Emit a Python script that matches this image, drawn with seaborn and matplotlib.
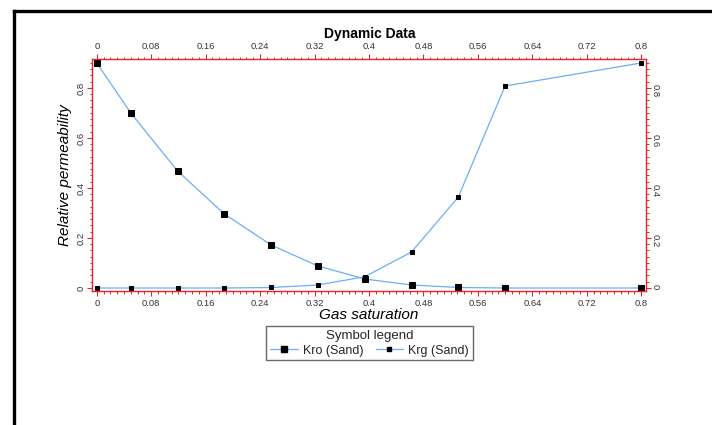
import matplotlib
matplotlib.use("Agg")
import matplotlib.pyplot as plt
import seaborn as sns
import numpy as np
import pandas as pd
from matplotlib.ticker import MultipleLocator
from matplotlib.lines import Line2D

# Data
sg = [0.0, 0.05, 0.11875, 0.1875, 0.25625, 0.325, 0.39375, 0.4625, 0.53125, 0.6, 0.8]
kro = [0.9, 0.70, 0.468, 0.296, 0.172, 0.088, 0.036, 0.012, 0.002, 0.0, 0.0]
krg = [0.0, 0.0, 0.0, 0.0, 0.002, 0.012, 0.045, 0.144, 0.364, 0.808, 0.9]
series_names = ["Kro (Sand)", "Krg (Sand)"]

sns.set_theme(style="white")
plt.rcParams['font.family'] = ['Liberation Sans', 'DejaVu Sans']

fig = plt.figure(figsize=(7.12, 4.25), dpi=100)
ax = fig.add_axes([0.1292, 0.3153, 0.7781, 0.5459])

line_color = '#6AAEFA'
red = '#E8262A'
big_ms = 5.0
small_ms = 2.6

df = pd.DataFrame({'sg': sg, 'kro': kro, 'krg': krg})
sns.lineplot(data=df, x='sg', y='kro', ax=ax, color=line_color, linewidth=0.9,
             marker='s', markersize=big_ms, markerfacecolor='black', markeredgecolor='black',
             sort=False, label=series_names[0], legend=False)
sns.lineplot(data=df, x='sg', y='krg', ax=ax, color=line_color, linewidth=0.9,
             marker='s', markersize=small_ms, markerfacecolor='black', markeredgecolor='black',
             sort=False, label=series_names[1], legend=False)

ax.set_xlim(-0.007, 0.807)
ax.set_ylim(-0.012, 0.916)

for sp in ax.spines.values():
    sp.set_visible(True)
    sp.set_color(red)
    sp.set_linewidth(1.0)

ax.xaxis.set_major_locator(MultipleLocator(0.08))
ax.xaxis.set_minor_locator(MultipleLocator(0.01))
ax.yaxis.set_major_locator(MultipleLocator(0.2))
ax.yaxis.set_minor_locator(MultipleLocator(0.025))

fmt = lambda v, p: ('%g' % round(v, 4))
ax.xaxis.set_major_formatter(plt.FuncFormatter(fmt))
ax.yaxis.set_major_formatter(plt.FuncFormatter(fmt))

tick_color = '#333333'
ax.tick_params(axis='both', which='major', direction='out', length=3.5, width=0.8,
               color=red, labelcolor=tick_color, labelsize=6.8, pad=2)
ax.tick_params(axis='both', which='minor', direction='out', length=1.8, width=0.7, color=red)
ax.tick_params(axis='x', which='both', bottom=True, top=True, labelbottom=True, labeltop=True)
ax.tick_params(axis='y', which='both', left=True, right=True)
ax.tick_params(axis='y', which='major', labelrotation=90, pad=1)
for lab in ax.get_yticklabels():
    lab.set_va('center')

# right-side labels rotated the other way
secy = ax.secondary_yaxis('right')
secy.yaxis.set_major_locator(MultipleLocator(0.2))
secy.yaxis.set_major_formatter(plt.FuncFormatter(fmt))
secy.tick_params(axis='y', which='major', length=0, labelsize=6.8, labelcolor=tick_color,
                 labelrotation=-90, pad=3)
secy.spines['right'].set_visible(False)

ax.set_xlabel('Gas saturation', fontsize=11, style='italic', labelpad=0, color='black')
ax.set_ylabel('Relative permeability', fontsize=11, style='italic', color='black')
ax.yaxis.set_label_coords(-0.036, 0.5)
fig.text(0.519, 1 - 34/425, 'Dynamic Data', fontsize=10, fontweight='bold',
         ha='center', va='center', color='black')

handles = [
    Line2D([], [], color=line_color, linewidth=0.9, marker='s', markersize=big_ms,
           markerfacecolor='black', markeredgecolor='black'),
    Line2D([], [], color=line_color, linewidth=0.9, marker='s', markersize=small_ms,
           markerfacecolor='black', markeredgecolor='black'),
]
leg = fig.legend(handles, series_names, loc='upper center', bbox_to_anchor=(0.519, 0.232),
                 ncol=2, title='Symbol legend', fontsize=9, title_fontsize=9.5,
                 frameon=True, fancybox=False, edgecolor='#444444', handlelength=2.2,
                 handletextpad=0.4, columnspacing=1.0, borderpad=0.3, labelspacing=0.2,
                 borderaxespad=0)
leg.get_frame().set_linewidth(1.0)

# outer frame (left and top edges)
fig.add_artist(Line2D([14/712, 14/712], [0, 1 - 11/425], transform=fig.transFigure,
                      color='black', linewidth=2.4, solid_capstyle='projecting'))
fig.add_artist(Line2D([14/712, 1], [1 - 11/425, 1 - 11/425], transform=fig.transFigure,
                      color='black', linewidth=2.4, solid_capstyle='projecting'))

fig.savefig('out.png', dpi=100)
